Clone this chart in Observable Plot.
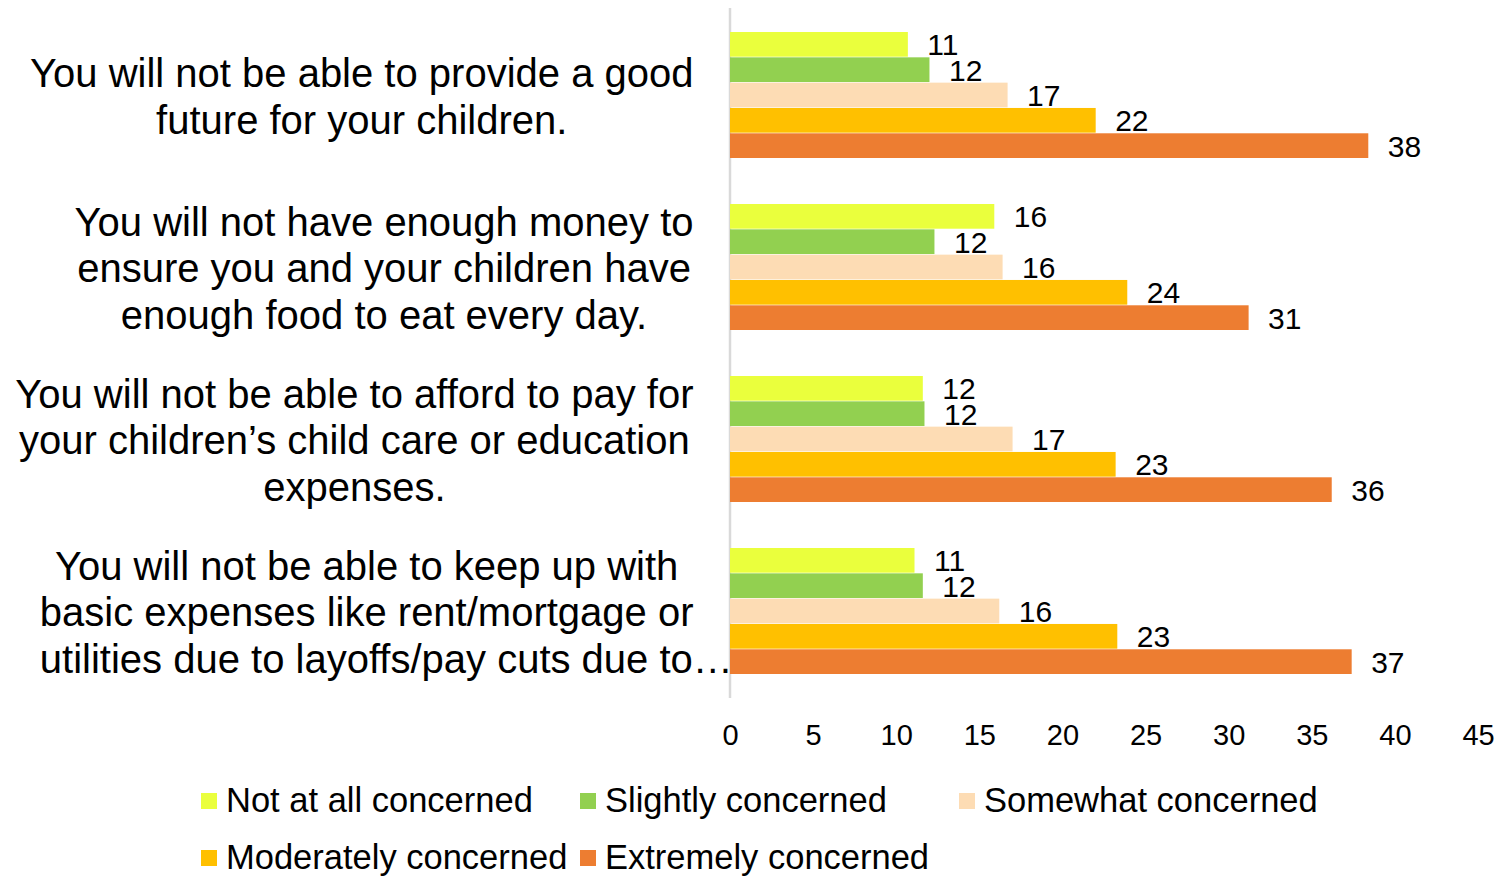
<!DOCTYPE html>
<html>
<head>
<meta charset="utf-8">
<script src="https://cdn.jsdelivr.net/npm/d3@7"></script>
<script src="https://cdn.jsdelivr.net/npm/@observablehq/plot@0.6"></script>
<style>
  html, body { margin: 0; padding: 0; background: #fff; overflow: hidden; }
  body { width: 1496px; height: 876px; font-family: "Liberation Sans", Arial, sans-serif; }
  #legend { position: relative; padding-top: 7px; box-sizing: border-box;
            padding-left: 201px; display: flex; flex-wrap: wrap; width: 1340px; }
  .item { width: 379px; height: 57px; display: flex; align-items: center; font-size: 34.5px; color: #000; white-space: nowrap; }
  .sw { width: 16px; height: 16px; margin-right: 9px; flex: none; }
</style>
</head>
<body>
<div id="chart"></div>
<div id="legend"></div>
<script>
const categories = [
  "You will not be able to provide a good future for your children.",
  "You will not have enough money to ensure you and your children have enough food to eat every day.",
  "You will not be able to afford to pay for your children’s child care or education expenses.",
  "You will not be able to keep up with basic expenses like rent/mortgage or utilities due to layoffs/pay cuts due to…"
];
const tickLabels = [
  "You will not be able to provide a good\nfuture for your children.",
  "You will not have enough money to\nensure you and your children have\nenough food to eat every day.",
  "You will not be able to afford to pay for\nyour children’s child care or education\nexpenses.",
  "You will not be able to keep up with\nbasic expenses like rent/mortgage or\nutilities due to layoffs/pay cuts due to…"
];
const series = ["Not at all concerned", "Slightly concerned", "Somewhat concerned", "Moderately concerned", "Extremely concerned"];
const colors = ["#EAFF3D", "#92D050", "#FDDCB4", "#FFC000", "#ED7D31"];
const notAtAll   = [10.7, 15.9, 11.6, 11.1];
const slightly   = [12.0, 12.3, 11.7, 11.6];
const somewhat   = [16.7, 16.4, 17.0, 16.2];
const moderately = [22.0, 23.9, 23.2, 23.3];
const extremely  = [38.4, 31.2, 36.2, 37.4];
const xTicks = [0, 5, 10, 15, 20, 25, 30, 35, 40, 45];

const valuesBySeries = [notAtAll, slightly, somewhat, moderately, extremely];
const rows = [];
series.forEach((s, i) => categories.forEach((c, j) => rows.push({series: s, category: c, value: valuesBySeries[i][j]})));

const W = 1496, H = 765, mt = 8, mb = 67, ml = 730, mr = 18;
const labelRight = 693;
const pInner = 0.266, pOuter = 0.133;
const step = (H - mt - mb) / (categories.length - pInner + 2 * pOuter);
const bw = step * (1 - pInner);
const bh = bw / series.length;

const marks = [Plot.ruleX([0], {stroke: "#d9d9d9", strokeWidth: 2.5, dx: -0.5})];
series.forEach((s, i) => {
  const sub = rows.filter(d => d.series === s);
  marks.push(Plot.barX(sub, {x: "value", y: "category", fill: "series", insetTop: i * bh, insetBottom: (series.length - 1 - i) * bh}));
  marks.push(Plot.text(sub, {x: "value", y: "category", text: d => d3.format(".0f")(d.value), dx: 19, dy: (i - 2) * bh + 1,
    textAnchor: "start", fontSize: 30, fill: "#000"}));
});
marks.push(Plot.axisX({ticks: xTicks, tickSize: 0, tickPadding: 26, fontSize: 29, label: null, tickFormat: d => String(d)}));
marks.push(Plot.axisY({tickSize: 0, tickPadding: 0, textAnchor: "middle", fontSize: 40, lineHeight: 1.16, label: null,
  className: "catlab", tickFormat: d => tickLabels[categories.indexOf(d)]}));

const chart = Plot.plot({
  width: W, height: H,
  marginLeft: ml, marginRight: mr, marginTop: mt, marginBottom: mb,
  style: {fontFamily: "'Liberation Sans', Arial, sans-serif", color: "#000", background: "#fff", overflow: "visible"},
  x: {domain: [0, 45], label: null},
  y: {domain: categories, paddingInner: pInner, paddingOuter: pOuter, align: 0.5, label: null},
  color: {domain: series, range: colors},
  marks
});
document.getElementById("chart").appendChild(chart);

// Right-align each label block at labelRight, with its lines centred inside the block;
// a truncated (ellipsis) line starts at the block's left edge and overflows to the right.
chart.querySelectorAll("g.catlab text").forEach(t => {
  const spans = t.querySelectorAll("tspan");
  const lines = spans.length ? Array.from(spans) : [t];
  let w = 0;
  lines.forEach(sp => {
    if (!sp.textContent.endsWith("…")) w = Math.max(w, sp.getComputedTextLength());
  });
  if (w === 0) lines.forEach(sp => { w = Math.max(w, sp.getComputedTextLength()); });
  const shift = (labelRight - w / 2) - ml;
  const tr = t.getAttribute("transform") || "";
  t.setAttribute("transform", tr + ` translate(${shift},0)`);
  if (spans.length) lines.forEach(sp => {
    if (sp.textContent.endsWith("…")) {
      sp.setAttribute("text-anchor", "start");
      sp.setAttribute("x", String(-w / 2));
    }
  });
});

const legend = document.getElementById("legend");
series.forEach((s, i) => {
  const it = document.createElement("div");
  it.className = "item";
  const sw = document.createElement("span");
  sw.className = "sw";
  sw.style.background = colors[i];
  const t = document.createElement("span");
  t.textContent = s;
  it.appendChild(sw); it.appendChild(t);
  legend.appendChild(it);
});
</script>
</body>
</html>
